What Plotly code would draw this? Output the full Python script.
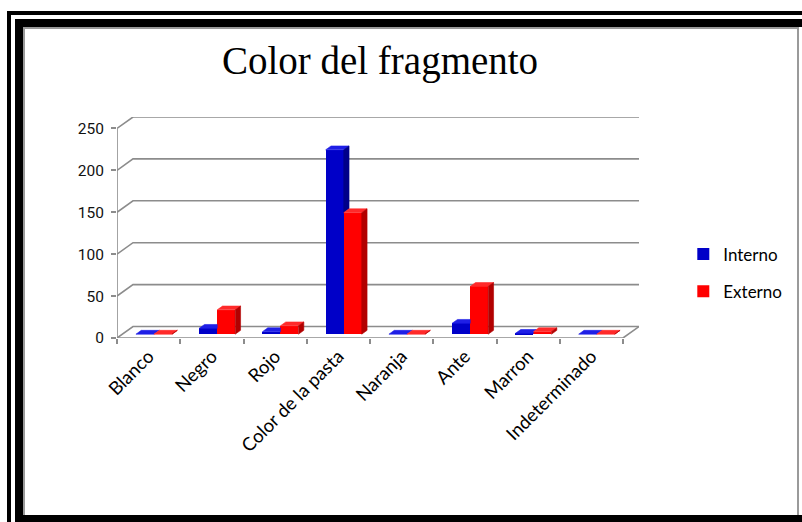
import plotly.graph_objects as go

# ---- data -------------------------------------------------------------
categories = ["Blanco", "Negro", "Rojo", "Color de la pasta",
              "Naranja", "Ante", "Marron", "Indeterminado"]
interno = [0, 7, 3, 220, 0, 13, 1, 0]
externo = [0, 29, 10, 145, 0, 57, 3, 0]
y_ticks = [0, 50, 100, 150, 200, 250]
series_names = ["Interno", "Externo"]
title_text = "Color del fragmento"

# ---- geometry / style -------------------------------------------------
W, H = 802, 522
FRONT_LEFT, FRONT_RIGHT, BACK_RIGHT = 117, 623, 639      # px
FLOOR_Y, TOP_Y = 338, 117                                # px
Y_MAX = 250
N = len(categories)
X_PX = (FRONT_RIGHT - FRONT_LEFT) / N                    # px per category
Y_PX = 210 / Y_MAX                                       # px per value unit
DX = (BACK_RIGHT - FRONT_RIGHT) / X_PX                   # depth, x units
DY = 11.5 / Y_PX                                         # depth, y units
BW = 0.285                                               # bar width
dx1, dy1 = DX / 3, DY / 3                                # bar front plane
SLOPE = dy1 / dx1

GRID = "#8c8c8c"
FACE = {
    "Interno": dict(front="#0000c8", top="#1f1fe6", side="#00008a"),
    "Externo": dict(front="#ff0000", top="#ff2a2a", side="#b20000"),
}

fig = go.Figure()

# front faces as real bars, resting on the floor plane
for name, vals, off in [("Interno", interno, -BW / 2), ("Externo", externo, BW / 2)]:
    fig.add_trace(go.Bar(
        x=[i + off + dx1 for i in range(N)], y=vals, base=dy1, width=BW,
        marker=dict(color=FACE[name]["front"], line=dict(width=0)),
        name=name, legendgroup=name, hoverinfo="skip",
    ))


def poly(xs, ys, color):
    fig.add_trace(go.Scatter(
        x=xs + [xs[0]], y=ys + [ys[0]], mode="lines", fill="toself",
        fillcolor=color, line=dict(color=color, width=0.6),
        hoverinfo="skip", showlegend=False,
    ))


# top and side faces of the 3-D columns
for i in range(N):
    vb, vr = interno[i], externo[i]
    b = dy1
    yb, yr = b + vb, b + vr
    # Interno column: x0..x1 ; Externo column: x1..x2
    x0 = i - BW + dx1
    x1 = i + dx1
    x2 = i + BW + dx1
    # Interno top, minus the part hidden behind the Externo column
    yc = min(max(yr, yb), yb + dy1)
    poly([x0, x1, x1, x1 + (yb + dy1 - yc) / SLOPE, x0 + dx1],
         [yb, yb, yc, yb + dy1, yb + dy1], FACE["Interno"]["top"])
    # Interno side, only where it rises above the Externo column
    if vb > vr:
        poly([x1, x1, x1 + dx1, x1 + dx1],
             [yr, yb, yb + dy1, yr + dy1], FACE["Interno"]["side"])
    # Externo top and side
    poly([x1, x2, x2 + dx1, x1 + dx1],
         [yr, yr, yr + dy1, yr + dy1], FACE["Externo"]["top"])
    poly([x2, x2, x2 + dx1, x2 + dx1],
         [b, yr, yr + dy1, b + dy1], FACE["Externo"]["side"])

# invisible trace that carries the boundary-tick axis
fig.add_trace(go.Scatter(x=[-0.5], y=[0], xaxis="x2", mode="markers",
                         marker=dict(opacity=0), hoverinfo="skip", showlegend=False))

# ---- walls, gridlines and floor --------------------------------------
shapes = []
xl, xr = -0.5, N - 0.5
for v in y_ticks:
    shapes.append(dict(
        type="path", xref="x", yref="y", layer="below",
        path=f"M{xl},{v} L{xl + DX},{v + DY} L{xr + DX},{v + DY}",
        line=dict(color=GRID, width=1.6)))
shapes.append(dict(type="line", xref="x", yref="y", layer="below",
                   x0=xl, y0=0, x1=xl, y1=Y_MAX, line=dict(color=GRID, width=1.6)))
shapes.append(dict(type="path", xref="x", yref="y", layer="below",
                   path=f"M{xl},0 L{xr},0 L{xr + DX},{DY}",
                   line=dict(color=GRID, width=1.6)))


# ---- page frame -------------------------------------------------------
def rect(x0, y0, x1, y1, color):
    shapes.append(dict(type="rect", xref="paper", yref="paper", layer="above",
                       x0=x0 / W, x1=x1 / W, y0=1 - y1 / H, y1=1 - y0 / H,
                       fillcolor=color, line=dict(width=0)))


rect(7, 11, 11, H, "black")          # outer thin line, left
rect(7, 11, W, 15, "black")          # outer thin line, top
rect(15, 19, W, 27, "black")         # thick band, top
rect(15, 19, 23, H, "black")         # thick band, left
rect(15, 515, W, H, "black")         # thick band, bottom
rect(23, 27, 799, 29, "#9a9a9a")     # inner grey edge, top
rect(23, 27, 25, 515, "#9a9a9a")     # inner grey edge, left
rect(797, 27, 799, 515, "#9a9a9a")   # inner grey edge, right

x_range = [xl, xr + DX]
fig.update_layout(
    width=W, height=H, autosize=False,
    margin=dict(l=0, r=0, t=0, b=0, autoexpand=False),
    paper_bgcolor="white", plot_bgcolor="rgba(0,0,0,0)",
    barmode="overlay", bargap=0,
    shapes=shapes,
    title=dict(text=title_text, x=380 / W, y=1 - 60 / H, xref="paper",
               yref="container", xanchor="center", yanchor="middle",
               automargin=False,
               font=dict(family="Liberation Serif, Times New Roman, serif",
                         size=39, color="black")),
    xaxis=dict(domain=[FRONT_LEFT / W, BACK_RIGHT / W], range=x_range,
               automargin=False,
               tickmode="array", tickvals=list(range(N)), ticktext=categories,
               tickangle=-45, ticks="", showgrid=False, zeroline=False,
               showline=False, ticklabelstandoff=3,
               tickfont=dict(family="Lato, Carlito, sans-serif", size=18.5, color="black")),
    xaxis2=dict(overlaying="x", anchor="y", side="bottom", range=x_range,
                automargin=False,
                tickmode="array", tickvals=[i - 0.5 for i in range(N + 1)],
                ticks="outside", ticklen=5, tickwidth=1.6, tickcolor=GRID,
                showticklabels=False, showgrid=False, zeroline=False, showline=False),
    yaxis=dict(domain=[1 - FLOOR_Y / H, 1 - TOP_Y / H], range=[0, Y_MAX + DY],
               automargin=False,
               tickmode="array", tickvals=y_ticks, ticks="outside", ticklen=5,
               tickwidth=1.6, tickcolor=GRID, showgrid=False, zeroline=False,
               showline=False, ticklabelstandoff=4,
               tickfont=dict(family="Roboto, sans-serif", size=15.5, color="#111111")),
    legend=dict(x=0.852, y=1 - 273 / H, xanchor="left", yanchor="middle",
                tracegroupgap=12, itemwidth=30, bgcolor="rgba(0,0,0,0)",
                font=dict(family="Lato, Carlito, sans-serif", size=17, color="black")),
    showlegend=True,
)

fig.write_html("out.html")
